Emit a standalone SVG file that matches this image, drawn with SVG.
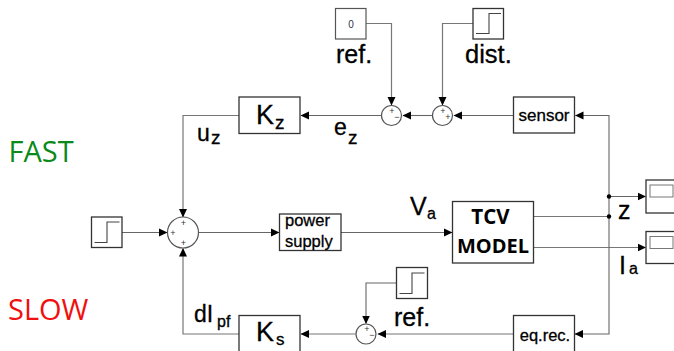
<svg xmlns="http://www.w3.org/2000/svg" width="674" height="351" viewBox="0 0 674 351">
<defs>
<marker id="a" markerUnits="userSpaceOnUse" markerWidth="9" markerHeight="9" refX="8" refY="4.500" orient="auto"><path d="M0 0.500L8.500 4.500L0 8.500Z" fill="#000"/></marker>
</defs>
<style>
.b{fill:#fff;stroke:#333;stroke-width:1.3}
.s{fill:#fff;stroke:#555;stroke-width:1.2}
.c{fill:none;stroke:#777;stroke-width:1.2}
.ca{fill:none;stroke:#666;stroke-width:1.1;marker-end:url(#a)}
.g{stroke:#888;stroke-width:1.3}
.st{fill:none;stroke:#444;stroke-width:1.1}
text{font-family:"Liberation Sans",Arial,sans-serif;fill:#000;stroke:#000;stroke-width:.3}
.p{font-size:9px;fill:#333;stroke:none}
.o{font-family:"Open Sans",sans-serif;stroke:none}
</style>
<rect width="674" height="351" fill="#fff"/>
<g id="connectors">
<path class="c" d="M366 23.500H391.500V105" marker-end="url(#a)"/>
<path class="c" d="M473 23.500H442.500V105" marker-end="url(#a)"/>
<path class="ca" d="M432 115.500H403"/>
<path class="ca" d="M513.500 115.500H454"/>
<path class="ca" d="M609 216.500V115.500H575.500"/>
<path class="ca" d="M381.500 115.500H301"/>
<path class="c" d="M239 115.500H183V217" marker-end="url(#a)"/>
<path class="ca" d="M122 232.500H167"/>
<path class="c" d="M239 334H183V248.500" marker-end="url(#a)"/>
<path class="ca" d="M198.500 232.500H279"/>
<path class="ca" d="M341 232.500H452"/>
<path class="c" d="M533.500 216.500H609"/>
<path class="ca" d="M609 196.500H645.500"/>
<path class="c" d="M533.500 247.500H645.500" marker-end="url(#a)"/>
<path class="ca" d="M609 216.500V334H575"/>
<path class="c" d="M513.500 334H378" marker-end="url(#a)"/>
<path class="c" d="M355.500 334H301" marker-end="url(#a)"/>
<path class="ca" d="M396.500 283H366V323.500"/>
<circle cx="609" cy="196.500" r="2.200" fill="#000"/>
<circle cx="609" cy="216.500" r="2.200" fill="#000"/>
</g>
<g id="fast"><text class="o" x="8.500" y="162" font-size="29" style="fill:#0a8a1a">FAST</text></g>
<g id="slow"><text class="o" x="8" y="320" font-size="29" style="fill:#f01010">SLOW</text></g>
<g id="ref0"><rect class="s" x="335.500" y="8.500" width="30.500" height="30.500"/><text x="351" y="27.500" font-size="10" text-anchor="middle" style="fill:#335;stroke:none">0</text></g>
<text x="336" y="63" font-size="25">ref.</text>
<g id="dist"><rect class="b" x="473" y="8.500" width="30.500" height="30.500"/><path class="st" d="M476 33.500H489V13.500H501"/></g>
<text x="465" y="63" font-size="25.500">dist.</text>
<g id="sum1"><circle class="s" cx="391.500" cy="115.500" r="10"/><text class="p" x="392" y="114" text-anchor="middle">+</text><text class="p" x="397" y="119.500" text-anchor="middle">−</text></g>
<g id="sum2"><circle class="s" cx="442.500" cy="115.500" r="10"/><text class="p" x="443" y="114" text-anchor="middle">+</text><text class="p" x="448" y="119.500" text-anchor="middle">+</text></g>
<g id="sensor"><rect class="b" x="513.500" y="97" width="61" height="36"/><text x="544" y="121" font-size="17" text-anchor="middle">sensor</text></g>
<g id="kz"><rect class="b" x="239" y="97" width="61" height="36.500"/><text x="256" y="124" font-size="27">K</text><text x="275" y="129" font-size="19">z</text></g>
<text x="197" y="141" font-size="23">u</text><text x="211" y="144" font-size="19">z</text>
<text x="334" y="135" font-size="23">e</text><text x="348" y="144" font-size="19">z</text>
<g id="step1"><rect class="b" x="91.500" y="217" width="30.500" height="30.500"/><path class="st" d="M94.500 242.500H107V222H119.500"/></g>
<g id="sum0"><circle class="s" cx="183" cy="232.500" r="15.500"/><text class="p" x="183.500" y="225.500" text-anchor="middle">+</text><text class="p" x="173" y="236" text-anchor="middle">+</text><text class="p" x="183.500" y="246" text-anchor="middle">+</text></g>
<g id="power"><rect class="b" x="279.500" y="214" width="61.500" height="36.500"/><text x="285" y="226" font-size="16.500">power</text><text x="285" y="247" font-size="16.500">supply</text></g>
<text x="410" y="215" font-size="25">V</text><text x="427" y="219" font-size="16">a</text>
<g id="tcv"><rect class="b" x="452.500" y="201.500" width="81" height="61.500"/><text class="o" x="490.500" y="224" font-size="20.500" font-weight="700" text-anchor="middle">TCV</text><text class="o" x="493" y="253" font-size="20" font-weight="700" text-anchor="middle">MODEL</text></g>
<g id="scope1"><rect class="b" x="646" y="180" width="30" height="33"/><rect x="650" y="185" width="23" height="12" fill="#fff" stroke="#777"/></g>
<g id="scope2"><rect class="b" x="646" y="231.500" width="30" height="32"/><rect x="650" y="236.500" width="23" height="12" fill="#fff" stroke="#777"/></g>
<text x="618" y="219" font-size="25">z</text>
<text x="619" y="274" font-size="25">I</text><text x="629" y="274" font-size="16">a</text>
<g id="step2"><rect class="b" x="396.500" y="267.500" width="31" height="31"/><path class="st" d="M399.500 293.500H412V273H424.500"/></g>
<text x="394" y="326" font-size="25">ref.</text>
<g id="sum3"><circle class="s" cx="366" cy="334" r="10"/><text class="p" x="367" y="332" text-anchor="middle">+</text><text class="p" x="372" y="338" text-anchor="middle">−</text></g>
<g id="eqrec"><rect class="b" x="513.500" y="315.500" width="61" height="45"/><text x="545" y="341" font-size="16.500" text-anchor="middle">eq.rec.</text></g>
<g id="ks"><rect class="b" x="239" y="315.500" width="61" height="45"/><text x="256" y="341" font-size="27">K</text><text x="276" y="345" font-size="17">s</text></g>
<text x="194" y="322" font-size="23">dI</text><text x="217" y="327" font-size="16">pf</text>
</svg>
